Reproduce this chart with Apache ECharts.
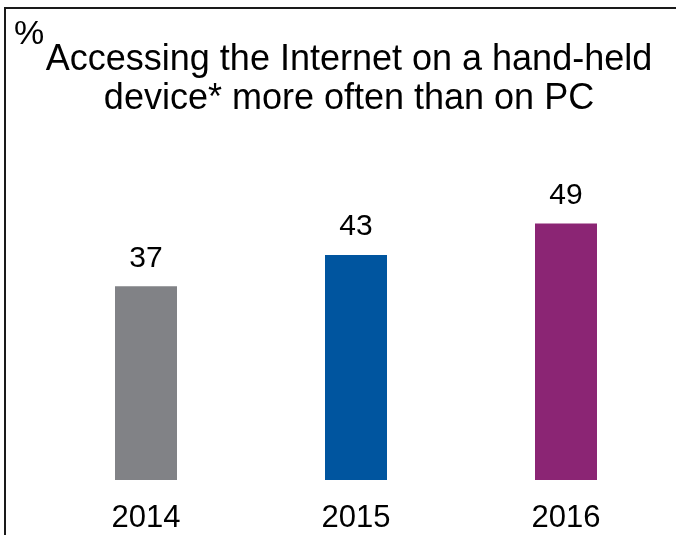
<!DOCTYPE html>
<html>
<head>
<meta charset="utf-8">
<script src="https://cdn.jsdelivr.net/npm/echarts@6/dist/echarts.min.js"></script>
<style>
  html, body { margin: 0; padding: 0; background: #ffffff; }
  #chart { width: 676px; height: 535px; }
</style>
</head>
<body>
<div id="chart"></div>
<script>
// Share of users going online more often on a hand-held device than on a PC
const years = ['2014', '2015', '2016'];
const shares = [37, 43, 49];
const barColors = ['#818286', '#00559f', '#8b2574'];

const FONT = '"Liberation Sans", Arial, sans-serif';

const chart = echarts.init(document.getElementById('chart'), null, { renderer: 'canvas' });

chart.setOption({
  backgroundColor: '#ffffff',
  animation: false,
  title: {
    text: 'Accessing the Internet on a hand-held\ndevice* more often than on PC',
    left: 344,
    top: 36,
    textAlign: 'center',
    textStyle: {
      fontFamily: FONT,
      fontSize: 36,
      fontWeight: 'normal',
      color: '#000000',
      lineHeight: 39
    }
  },
  grid: { left: 41, right: 5, top: 166, bottom: 55 },
  xAxis: {
    type: 'category',
    data: years,
    axisLine: { show: false },
    axisTick: { show: false },
    axisLabel: {
      fontFamily: FONT,
      fontSize: 31,
      color: '#000000',
      margin: 23
    }
  },
  yAxis: {
    type: 'value',
    min: 0,
    max: 60,
    show: false,
    splitLine: { show: false }
  },
  series: [{
    type: 'bar',
    barWidth: 62,
    data: shares.map((v, i) => ({ value: v, itemStyle: { color: barColors[i] } })),
    label: {
      show: true,
      position: 'top',
      distance: 13,
      fontFamily: FONT,
      fontSize: 30,
      color: '#000000'
    }
  }],
  graphic: [
    // frame: top and left edges only
    {
      type: 'polyline',
      shape: { points: [[5, 535], [5, 8], [676, 8]] },
      style: { stroke: '#1a1a1a', lineWidth: 2, fill: null }
    },
    {
      type: 'text',
      left: 14,
      top: 18,
      style: {
        text: '%',
        font: '34px ' + FONT,
        fill: '#000000'
      }
    }
  ]
});
</script>
</body>
</html>
